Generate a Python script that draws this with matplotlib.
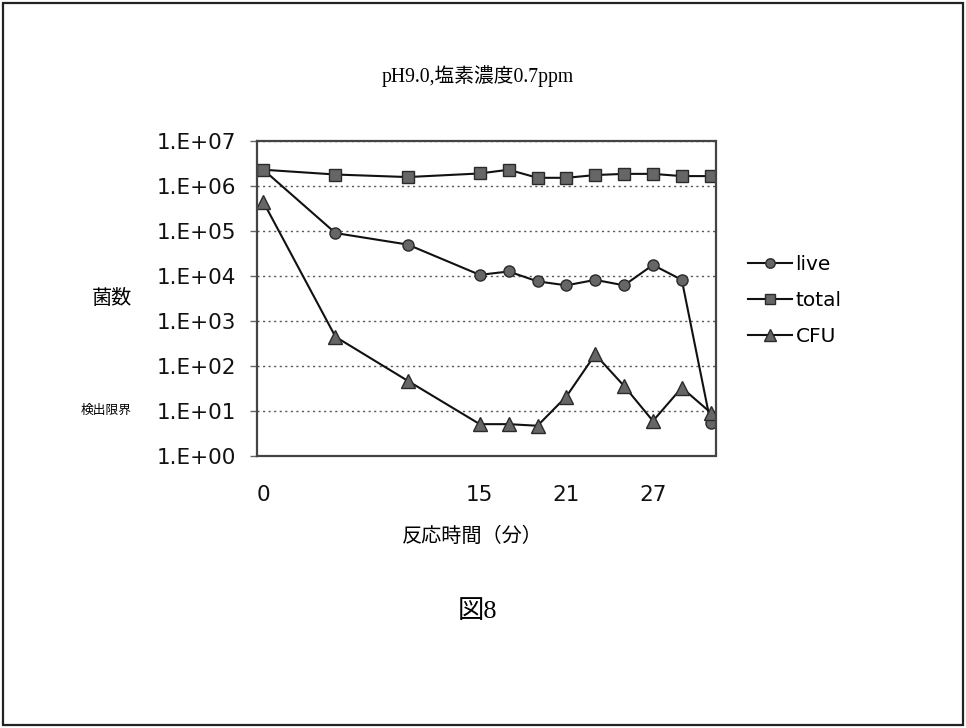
import matplotlib
matplotlib.use("Agg")
import matplotlib.pyplot as plt
from matplotlib.patches import Rectangle
from matplotlib.ticker import FixedLocator, FuncFormatter

# reaction time (minutes)
minutes = [0, 5, 10, 15, 17, 19, 21, 23, 25, 27, 29, 31]

# bacterial counts
live = [2.3e6, 9.0e4, 5.0e4, 1.06e4, 1.26e4, 7.6e3, 6.2e3, 8.2e3, 6.2e3, 1.76e4, 8.2e3, 5.4]
total = [2.3e6, 1.8e6, 1.58e6, 1.9e6, 2.3e6, 1.52e6, 1.52e6, 1.75e6, 1.86e6, 1.86e6, 1.66e6, 1.66e6]
cfu = [4.4e5, 445, 47, 5.1, 5.1, 4.7, 21, 181, 36, 6.0, 33, 9.2]

x_tick_values = [0, 15, 21, 27]
y_exponents = [0, 1, 2, 3, 4, 5, 6, 7]

title = "pH9.0,塩素濃度0.7ppm"
xlabel = "反応時間（分）"
ylabel = "菌数"
limit_label = "検出限界"
figure_caption = "図8"

sans = ["Noto Sans CJK JP", "DejaVu Sans"]
tick_font = ["DejaVu Sans"]
serif = ["Liberation Serif", "Noto Sans CJK JP"]

fig = plt.figure(figsize=(9.66, 7.28), dpi=100)
fig.patch.set_facecolor("white")

# outer frame around the whole figure
fig.add_artist(Rectangle((3 / 966, 3 / 728), 960 / 966, 722 / 728,
                         transform=fig.transFigure, fill=False,
                         edgecolor="#222222", linewidth=1.6))

ax = fig.add_axes([257 / 966, 1 - 456 / 728, 459 / 966, 315 / 728])
ax.set_yscale("log")
ax.set_ylim(1, 1e7)
ax.set_xlim(-0.44, 31.37)

marker_style = dict(color="#111111", linewidth=1.5, markersize=8,
                    markerfacecolor="#666666", markeredgecolor="#2a2a2a",
                    markeredgewidth=1.0)
ax.plot(minutes, live, marker="o", label="live", **marker_style)
ax.plot(minutes, total, marker="s", label="total", **marker_style)
ax.plot(minutes, cfu, marker="^", label="CFU", markersize=9.5,
        **{k: v for k, v in marker_style.items() if k != "markersize"})

# axis ticks and labels
ax.yaxis.set_major_locator(FixedLocator([10.0 ** e for e in y_exponents]))
ax.yaxis.set_minor_locator(FixedLocator([]))
ax.yaxis.set_major_formatter(FuncFormatter(
    lambda v, pos: "1.E+{:02d}".format(y_exponents[pos]) if pos is not None else ""))
ax.xaxis.set_major_locator(FixedLocator(x_tick_values))
ax.xaxis.set_major_formatter(FuncFormatter(lambda v, pos: "{:d}".format(int(round(v)))))

ax.tick_params(axis="y", length=5, width=1, color="#666666", pad=10,
               labelsize=15.5, labelcolor="#111111")
ax.tick_params(axis="x", length=0, pad=21, labelsize=15.5, labelcolor="#111111")
for lbl in ax.get_xticklabels() + ax.get_yticklabels():
    lbl.set_family(tick_font)

ax.grid(axis="y", linestyle=(0, (1.5, 2.5)), color="#555555", linewidth=1.0)
for spine in ax.spines.values():
    spine.set_linestyle((0, (1.2, 1.0)))
    spine.set_color("#444444")
    spine.set_linewidth(1.6)

leg = ax.legend(loc="upper left", frameon=False,
                prop={"family": tick_font, "size": 14.5}, handlelength=2.2,
                handletextpad=0.15, labelspacing=0.85, markerscale=0.85,
                borderpad=0.0)
leg.set_bbox_to_anchor((738 / 966, 1 - 245 / 728), transform=fig.transFigure)

# titles and annotations
fig.text(478 / 966, 1 - 76 / 728, title, ha="center", va="center",
         fontsize=14.2, family=serif)
fig.text(112 / 966, 1 - 298 / 728, ylabel, ha="center", va="center",
         fontsize=14.5, family=sans)
fig.text(106 / 966, 1 - 410 / 728, limit_label, ha="center", va="center",
         fontsize=9.2, family=sans)
fig.text(472 / 966, 1 - 536 / 728, xlabel, ha="center", va="center",
         fontsize=14.5, family=sans)
fig.text(478 / 966, 1 - 612 / 728, figure_caption, ha="center", va="center",
         fontsize=19, family=serif)

fig.savefig("out.png", dpi=100, facecolor="white")
